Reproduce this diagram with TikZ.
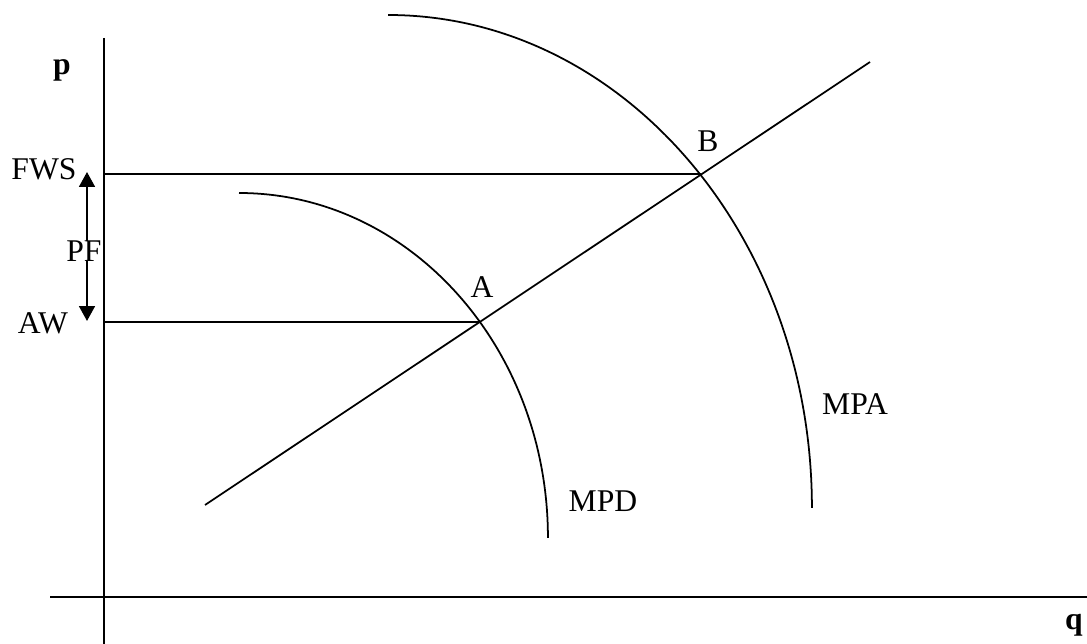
\documentclass[tikz,border=0pt]{standalone}
\usepackage{fontspec}
\setmainfont{Liberation Serif}
\usetikzlibrary{arrows.meta,positioning}

\begin{document}
\begin{tikzpicture}[x=0.02cm,y=-0.02cm,line width=1pt,
      lbl/.style={font=\fontsize{18}{21}\selectfont,inner sep=1pt},
      axlbl/.style={font=\fontsize{18}{21}\selectfont\bfseries,inner sep=1pt},
      a/.style={{Triangle[length=8.5pt,width=9pt]}-{Triangle[length=8.5pt,width=9pt]},line width=1.2pt}]
      \useasboundingbox (0,0) rectangle (1087,644);
      % axes
      \coordinate (ytop) at (104,38);
      \coordinate (ybot) at (104,644);
      \coordinate (xleft) at (50,597);
      \coordinate (xright) at (1087,597);
      \draw (ytop)--(ybot);
      \draw (xleft)--(xright);
      \node[axlbl] (p) at (62,70) {p};
      \node[axlbl] (q) at (1074,625) {q};
      % intersections
      \coordinate (A) at (481,322);
      \coordinate (B) at (701,174);
      \coordinate (lstart) at (205,505);
      \coordinate (lend) at (870,62);
      \draw (lstart)--(lend);
      % curves
      \coordinate (mpdS) at (239,193);
      \coordinate (mpaS) at (388,15);
      \draw (mpdS) arc[start angle=90,end angle=0,x radius=6.18cm,y radius=6.9cm];
      \draw (mpaS) arc[start angle=90,end angle=0,x radius=8.48cm,y radius=9.86cm];
      % price levels
      \coordinate (fwsY) at (104,174);
      \coordinate (awY) at (104,322);
      \draw (fwsY)--(B);
      \draw (awY)--(A);
      \node[lbl] (fws) at (44,169) {FWS};
      \node[lbl] (aw) at (43,323) {AW};
      \coordinate (pfT) at (87,172);
      \coordinate (pfB) at (87,321);
      \draw[a] (pfT)--(pfB);
      \node[lbl,fill=white,inner sep=0pt] (pf) at (84,251) {PF};
      % labels
      \node[lbl] (bl) at (708,141) {B};
      \node[lbl] (al) at (482,287) {A};
      \node[lbl] (mpd) at (603,501) {MPD};
      \node[lbl] (mpa) at (855,404) {MPA};
\end{tikzpicture}
\end{document}
